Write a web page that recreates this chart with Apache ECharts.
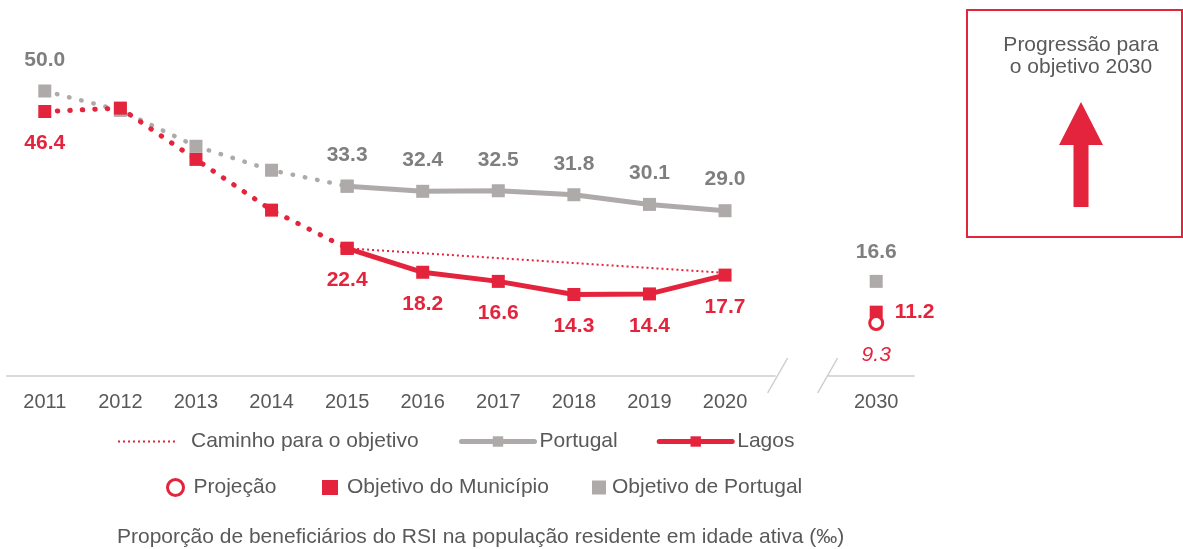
<!DOCTYPE html>
<html>
<head>
<meta charset="utf-8">
<script src="https://cdn.jsdelivr.net/npm/echarts@6/dist/echarts.min.js"></script>
<style>
  html, body { margin: 0; padding: 0; background: #fff; }
  #chart { width: 1183px; height: 549px; }
</style>
</head>
<body>
<div id="chart"></div>
<script>
// ---- data ----
const years = ['2011', '2012', '2013', '2014', '2015', '2016', '2017', '2018', '2019', '2020', '', '2030'];
const portugal = [50.0, 46.6, 40.3, 36.1, 33.3, 32.4, 32.5, 31.8, 30.1, 29.0];
const lagos = [46.4, 47.0, 38.0, 29.1, 22.4, 18.2, 16.6, 14.3, 14.4, 17.7];
const caminhoStart = 22.4;   // 2015
const caminhoEnd = 18.1;     // 2020
const objetivoPortugal2030 = 16.6;
const objetivoMunicipio2030 = 11.2;
const projecao2030 = 9.3;
const splitIndex = 4;        // dotted up to 2015, solid after
const title = 'Proporção de beneficiários do RSI na população residente em idade ativa (‰)';

// ---- style ----
const RED = '#e4233c';
const GREY = '#aeaaa9';
const GREY_TXT = '#7f7f7f';
const TXT = '#595959';
const FONT = '"Liberation Sans", Arial, Helvetica, sans-serif';

const N = years.length;
function segment(arr, from, to, labelIdx) {
  const out = [];
  for (let i = 0; i < N; i++) {
    if (i >= from && i <= to && i < arr.length) {
      if (labelIdx) out.push({ value: arr[i], label: { show: labelIdx.indexOf(i) >= 0 } });
      else out.push(arr[i]);
    } else out.push(null);
  }
  return out;
}
function single(idx, v) {
  const out = [];
  for (let i = 0; i < N; i++) out.push(i === idx ? v : '-');
  return out;
}
const idx2020 = years.indexOf('2020');
const idx2015 = years.indexOf('2015');
const idx2030 = years.indexOf('2030');
const caminho = [];
for (let i = 0; i < N; i++) caminho.push(i === idx2015 ? caminhoStart : (i === idx2020 ? caminhoEnd : null));

const fmt = p => Number(p.value).toFixed(1);
const boldLbl = (color, pos, dist) => ({
  show: true, position: pos, distance: dist, formatter: fmt,
  color: color, fontFamily: FONT, fontSize: 21, fontWeight: 'bold'
});

const chart = echarts.init(document.getElementById('chart'), null, { renderer: 'canvas' });

const legendText = { color: TXT, fontFamily: FONT, fontSize: 21 };

chart.setOption({
  animation: false,
  backgroundColor: '#fff',
  title: {
    text: title, left: 117, top: 527, padding: 0,
    textStyle: { color: TXT, fontFamily: FONT, fontSize: 21, fontWeight: 'normal' }
  },
  grid: { left: 7, right: 269, top: 34, bottom: 173, containLabel: false },
  xAxis: {
    type: 'category', data: years, boundaryGap: true,
    axisLine: { show: true, lineStyle: { color: '#d9d9d9', width: 2 } },
    axisTick: { show: false },
    axisLabel: { color: TXT, fontFamily: FONT, fontSize: 20, margin: 16, interval: 0 }
  },
  yAxis: { type: 'value', min: 0, max: 60, show: false, splitLine: { show: false } },
  legend: [
    {
      data: [{ name: 'Caminho para o objetivo', itemStyle: { opacity: 0 } }],
      left: 117, top: 431, padding: 0, itemWidth: 60, itemHeight: 14,
      lineStyle: { width: 2 },
      textStyle: Object.assign({ padding: [0, 0, 0, 8] }, legendText)
    },
    {
      data: ['Portugal', 'Lagos'],
      left: 459, top: 431, padding: 0, itemWidth: 73, itemHeight: 13, itemGap: 39,
      lineStyle: { width: 5, cap: 'round' },
      textStyle: legendText
    },
    {
      data: [{ name: 'Projeção', icon: 'circle', itemStyle: { color: '#fff', borderColor: RED, borderWidth: 3, opacity: 1 } }],
      left: 166, top: 477, padding: 0, itemWidth: 16, itemHeight: 16,
      textStyle: Object.assign({ padding: [0, 0, 0, 5] }, legendText)
    },
    {
      data: [{ name: 'Objetivo do Município', icon: 'rect', itemStyle: { opacity: 1 } }],
      left: 322, top: 477, padding: 0, itemWidth: 16, itemHeight: 15,
      textStyle: Object.assign({ padding: [0, 0, 0, 4] }, legendText)
    },
    {
      data: [{ name: 'Objetivo de Portugal', icon: 'rect', itemStyle: { opacity: 1 } }],
      left: 592, top: 477, padding: 0, itemWidth: 14, itemHeight: 14,
      textStyle: Object.assign({ padding: [0, 0, 0, 1] }, legendText)
    }
  ],
  series: [
    {
      name: 'Portugal (histórico)', type: 'line', data: segment(portugal, 0, splitIndex, [0]),
      symbol: 'rect', symbolSize: 13, itemStyle: { color: GREY },
      lineStyle: { color: GREY, width: 4.5, type: [0.5, 12], cap: 'round' },
      label: boldLbl(GREY_TXT, 'top', 14), z: 2
    },
    {
      name: 'Portugal', type: 'line', data: segment(portugal, splitIndex, portugal.length - 1),
      symbol: 'rect', symbolSize: 13, itemStyle: { color: GREY },
      lineStyle: { color: GREY, width: 5 },
      label: boldLbl(GREY_TXT, 'top', 14), z: 3
    },
    {
      name: 'Lagos (histórico)', type: 'line', data: segment(lagos, 0, splitIndex, [0]),
      symbol: 'rect', symbolSize: 13, itemStyle: { color: RED },
      lineStyle: { color: RED, width: 5, type: [0.5, 12], cap: 'round' },
      label: boldLbl(RED, 'bottom', 15), z: 4
    },
    {
      name: 'Caminho para o objetivo', type: 'line', data: caminho, connectNulls: true,
      symbol: 'none', itemStyle: { color: RED },
      lineStyle: { color: RED, width: 2, type: [2, 3] }, z: 4
    },
    {
      name: 'Lagos', type: 'line', data: segment(lagos, splitIndex, lagos.length - 1),
      symbol: 'rect', symbolSize: 13, itemStyle: { color: RED },
      lineStyle: { color: RED, width: 5 },
      label: boldLbl(RED, 'bottom', 15), z: 5
    },
    {
      name: 'Objetivo de Portugal', type: 'scatter', data: single(idx2030, objetivoPortugal2030),
      symbol: 'rect', symbolSize: 13, itemStyle: { color: GREY, opacity: 1 },
      label: boldLbl(GREY_TXT, 'top', 12), z: 5
    },
    {
      name: 'Objetivo do Município', type: 'scatter', data: single(idx2030, objetivoMunicipio2030),
      symbol: 'rect', symbolSize: 13, itemStyle: { color: RED, opacity: 1 },
      label: boldLbl(RED, 'right', 12), z: 5
    },
    {
      name: 'Projeção', type: 'scatter', data: single(idx2030, projecao2030),
      symbol: 'circle', symbolSize: 13,
      itemStyle: { color: '#fff', borderColor: RED, borderWidth: 3, opacity: 1 },
      label: {
        show: true, position: 'bottom', distance: 14, formatter: fmt,
        color: RED, fontFamily: FONT, fontSize: 21, fontStyle: 'italic', fontWeight: 'normal'
      },
      z: 6
    }
  ]
});

// axis break marks and the side box (decoration)
const gapX = chart.convertToPixel({ xAxisIndex: 0 }, 10);
const axisY = chart.convertToPixel({ yAxisIndex: 0 }, 0);
const bx = 1081;
chart.setOption({
  graphic: [
    { type: 'rect', shape: { x: gapX - 25, y: axisY - 5, width: 52, height: 10 }, style: { fill: '#fff' }, z: 10 },
    { type: 'line', shape: { x1: gapX - 13, y1: axisY - 18, x2: gapX - 33, y2: axisY + 17 }, style: { stroke: '#cdcdcd', lineWidth: 1.5 }, z: 11 },
    { type: 'line', shape: { x1: gapX + 37, y1: axisY - 18, x2: gapX + 17, y2: axisY + 17 }, style: { stroke: '#cdcdcd', lineWidth: 1.5 }, z: 11 },
    { type: 'rect', shape: { x: 967, y: 10, width: 215, height: 227 }, style: { fill: 'none', stroke: RED, lineWidth: 2 }, z: 10 },
    {
      type: 'text', x: bx, y: 56, z: 11,
      style: { text: 'Progressão para\no objetivo 2030', fill: TXT, font: '21px ' + FONT, align: 'center', verticalAlign: 'middle', lineHeight: 22 }
    },
    {
      type: 'polygon', z: 11,
      shape: { points: [[bx, 102], [bx + 22, 145], [bx + 7.5, 145], [bx + 7.5, 207], [bx - 7.5, 207], [bx - 7.5, 145], [bx - 22, 145]] },
      style: { fill: RED }
    }
  ]
});
</script>
</body>
</html>
